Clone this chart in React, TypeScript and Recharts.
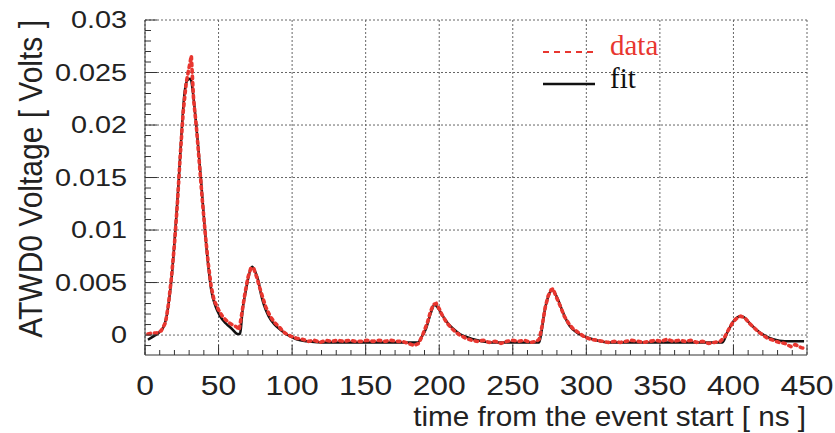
import React from "react";
import {
  LineChart,
  Line,
  XAxis,
  YAxis,
  CartesianGrid,
  Legend,
  Label,
} from "recharts";

// fitted waveform, [time ns, volts]
const fitPoints: [number, number][] = [
  [2, -0.00045], [6, -0.0001], [10, 0.0003], [13, 0.0009], [15, 0.002],
  [16.5, 0.0035], [18, 0.0053], [19.5, 0.0078], [21.5, 0.0117], [23, 0.0149],
  [25, 0.0196], [27, 0.0232], [29, 0.0243], [31, 0.0244], [32.5, 0.0232],
  [34, 0.0212], [36, 0.0182], [38, 0.0149], [40.5, 0.0104], [43, 0.0066],
  [45, 0.0043], [48, 0.0027], [51, 0.0018], [55, 0.0011], [59, 0.0006],
  [63, 0.0001], [64.5, 0.0001], [66.5, 0.0026], [68.5, 0.0042], [70, 0.0053],
  [72.8, 0.0065], [75, 0.006], [77, 0.0052], [79, 0.0038], [81, 0.0028],
  [84, 0.0018], [88, 0.001], [92, 0.0005], [97, 0.0], [103, -0.0004],
  [110, -0.0006], [120, -0.0007], [150, -0.0007], [185.5, -0.0007],
  [188, -0.0002], [191, 0.0006], [194.5, 0.0022], [196.8, 0.0029], [199, 0.0026],
  [202.5, 0.0018], [206, 0.0011], [209.5, 0.0006], [214, 0.0001], [219, -0.0002],
  [226, -0.0005], [235, -0.0007], [268, -0.0007], [269.5, 0.0003], [271.5, 0.0022],
  [273.5, 0.0034], [275, 0.004], [277, 0.0043], [279, 0.0039], [281, 0.0033],
  [284, 0.0022], [288.5, 0.0009], [295, 0.0001], [302, -0.0003], [307, -0.0005],
  [315, -0.0007], [392.5, -0.0007], [396, 0.0003], [400.5, 0.0014], [404.5, 0.0018],
  [407, 0.0017], [410.5, 0.0012], [414, 0.0007], [417.5, 0.0003], [422, -0.0001],
  [427, -0.0004], [435, -0.0006], [448, -0.0006],
];

// measured waveform, [time ns, volts]
const dataPoints: [number, number][] = [
  [2, 0.0001], [5, 0.0002], [8, 0.0002], [11, 0.0004], [14, 0.0012], [16, 0.003],
  [18, 0.0055], [20, 0.0086], [22, 0.0125], [24, 0.0172], [26, 0.0213], [28, 0.024],
  [30, 0.0255], [31.5, 0.0266], [33, 0.0225], [35, 0.0197], [37, 0.0163], [39, 0.0128],
  [41, 0.0096], [43, 0.0068], [45, 0.0046], [47, 0.0033], [50, 0.0024], [53, 0.0017],
  [56, 0.0013], [59, 0.001], [62, 0.0008], [64, 0.0005], [66, 0.0022], [68, 0.004],
  [70, 0.0055], [72, 0.0064], [74, 0.0063], [76, 0.0055], [78, 0.0045], [80, 0.0036],
  [82, 0.0027], [85, 0.0018], [88, 0.0012], [91, 0.0008], [95, 0.0002], [99, -0.0001],
  [103, -0.0003], [107, -0.0004], [111, -0.0006], [115, -0.0005], [119, -0.0007],
  [123, -0.0005], [127, -0.0006], [131, -0.0005], [135, -0.0006], [139, -0.0005],
  [143, -0.0006], [147, -0.0006], [151, -0.0005], [155, -0.0006], [159, -0.0005],
  [163, -0.0006], [167, -0.0005], [171, -0.0006], [175, -0.0006], [179, -0.0008],
  [183, -0.001], [186, -0.0008], [189, 0.0001], [192, 0.0012], [194, 0.0022],
  [196, 0.0029], [198, 0.003], [200, 0.0025], [202, 0.0019], [205, 0.0012],
  [208, 0.0007], [211, 0.0003], [214, 0.0], [218, -0.0003], [222, -0.0005],
  [226, -0.0006], [230, -0.0005], [234, -0.0007], [238, -0.0006], [242, -0.0008],
  [246, -0.0006], [250, -0.0005], [254, -0.0006], [258, -0.0005], [262, -0.0007],
  [266, -0.0006], [268, -0.0004], [270, 0.0009], [272, 0.0026], [274, 0.0037],
  [276, 0.0043], [277.5, 0.0044], [279, 0.0038], [281, 0.0032], [283, 0.0025],
  [285, 0.0018], [288, 0.0011], [291, 0.0006], [295, 0.0002], [299, -0.0002],
  [303, -0.0004], [307, -0.0005], [311, -0.0006], [315, -0.0007], [319, -0.0006],
  [323, -0.0007], [327, -0.0006], [331, -0.0005], [335, -0.0006], [339, -0.0007],
  [343, -0.0006], [347, -0.0005], [351, -0.0006], [355, -0.0004], [359, -0.0006],
  [363, -0.0005], [367, -0.0006], [371, -0.0005], [375, -0.0007], [379, -0.0006],
  [383, -0.0008], [387, -0.0007], [391, -0.0006], [394, -0.0002], [397, 0.0006],
  [400, 0.0013], [403, 0.0017], [405, 0.0018], [408, 0.0016], [411, 0.0011],
  [414, 0.0007], [417, 0.0003], [420, 0.0], [423, -0.0003], [427, -0.0005],
  [431, -0.0007], [435, -0.0008], [439, -0.0011], [442, -0.0009], [446, -0.0012],
  [449, -0.0013],
];

const xMajor = [0, 50, 100, 150, 200, 250, 300, 350, 400, 450];
const xLabels = ["0", "50", "100", "150", "200", "250", "300", "350", "400", "450"];
const yMajor = [0, 0.005, 0.01, 0.015, 0.02, 0.025, 0.03];
const yLabels = ["0", "0.005", "0.01", "0.015", "0.02", "0.025", "0.03"];

const xMinor = Array.from({ length: 46 }, (_, i) => i * 10);
const yMinor = Array.from({ length: 32 }, (_, i) => Number(((i - 1) * 0.001).toFixed(3)));

const RED = "#e8362f";
const SANS = "'Liberation Sans', Arial, sans-serif";
const SERIF = "'Liberation Serif', 'Times New Roman', serif";

const fitData = fitPoints.map(([t, v]) => ({ t, v }));
const measData = dataPoints.map(([t, v]) => ({ t, v }));

const findMajor = (list: number[], v: number) =>
  list.findIndex((m) => Math.abs(m - v) < 1e-9);

const XTick = (props: any) => {
  const { x, y, payload } = props;
  const i = findMajor(xMajor, payload.value);
  return (
    <g>
      <line x1={x} x2={x} y1={y} y2={y - (i >= 0 ? 10 : 5)} stroke="#333" />
      {i >= 0 && (
        <text
          transform={`translate(${x},${y + 40}) scale(1.18,1)`}
          textAnchor="middle"
          fontSize={27}
          fontFamily={SANS}
          fill="#222"
        >
          {xLabels[i]}
        </text>
      )}
    </g>
  );
};

const YTick = (props: any) => {
  const { x, y, payload } = props;
  const i = findMajor(yMajor, payload.value);
  return (
    <g>
      <line x1={x} x2={x + (i >= 0 ? 12 : 6)} y1={y} y2={y} stroke="#333" />
      {i >= 0 && (
        <text
          transform={`translate(${x - 18},${y}) scale(1.2,1)`}
          textAnchor="end"
          dy="0.35em"
          fontSize={24}
          fontFamily={SANS}
          fill="#222"
        >
          {yLabels[i]}
        </text>
      )}
    </g>
  );
};

const XTitle = (props: any) => {
  const { x, y, width } = props.viewBox;
  return (
    <text
      transform={`translate(${x + width - 1},${y + 71}) scale(1.1,1)`}
      textAnchor="end"
      fontSize={27}
      fontFamily={SANS}
      fill="#222"
    >
      time from the event start [ ns ]
    </text>
  );
};

const YTitle = (props: any) => {
  const { y } = props.viewBox;
  return (
    <text
      transform={`translate(42,${y}) scale(1.1,1) rotate(-90)`}
      textAnchor="end"
      fontSize={30}
      fontFamily={SANS}
      fill="#222"
    >
      ATWD0 Voltage [ Volts ]
    </text>
  );
};

const FitLegend = () => (
  <svg width={160} height={80}>
    <line x1={13} x2={67} y1={32} y2={32} stroke={RED} strokeWidth={2} strokeDasharray="6 5" />
    <text x={80} y={35} fontSize={29} fontFamily={SERIF} fill={RED}>
      data
    </text>
    <line x1={13} x2={65} y1={64} y2={64} stroke="#111" strokeWidth={2.5} />
    <text x={80} y={68} fontSize={29} fontFamily={SERIF} fill="#111">
      fit
    </text>
  </svg>
);

export default function App() {
  return (
    <div style={{ position: "absolute", left: 0, top: 0, background: "#fff" }}>
      <LineChart width={835} height={433} margin={{ top: 20, right: 28, left: 0, bottom: 0 }}>
        <CartesianGrid
          verticalValues={xMajor}
          horizontalValues={yMajor}
          stroke="#666"
          strokeDasharray="2 2"
        />
        <XAxis
          dataKey="t"
          type="number"
          domain={[0, 450]}
          ticks={xMinor}
          interval={0}
          allowDataOverflow
          height={78}
          tickSize={0}
          tickMargin={0}
          tickLine={false}
          tick={<XTick />}
          axisLine={{ stroke: "#333" }}
        >
          <Label content={<XTitle />} />
        </XAxis>
        <XAxis
          xAxisId="top"
          orientation="top"
          type="number"
          domain={[0, 450]}
          height={0}
          tick={false}
          tickLine={false}
          axisLine={{ stroke: "#333" }}
        />
        <YAxis
          type="number"
          domain={[-0.0019, 0.03]}
          ticks={yMinor}
          interval={0}
          allowDataOverflow
          width={145}
          tickSize={0}
          tickMargin={0}
          tickLine={false}
          tick={<YTick />}
          axisLine={{ stroke: "#333" }}
        >
          <Label content={<YTitle />} />
        </YAxis>
        <YAxis
          yAxisId="right"
          orientation="right"
          type="number"
          domain={[-0.0019, 0.03]}
          width={0}
          tick={false}
          tickLine={false}
          axisLine={{ stroke: "#333" }}
        />
        <Legend
          layout="horizontal"
          verticalAlign="middle"
          align="center"
          content={<FitLegend />}
          wrapperStyle={{ position: "absolute", left: 530, top: 20, width: 160, height: 80 }}
        />
        <Line
          data={fitData}
          dataKey="v"
          name="fit"
          type="monotone"
          stroke="#111"
          strokeWidth={2.5}
          dot={false}
          isAnimationActive={false}
        />
        <Line
          data={measData}
          dataKey="v"
          name="data"
          type="linear"
          stroke={RED}
          strokeWidth={3.6}
          strokeDasharray="2.5 4"
          strokeLinecap="round"
          dot={false}
          isAnimationActive={false}
        />
      </LineChart>
    </div>
  );
}
